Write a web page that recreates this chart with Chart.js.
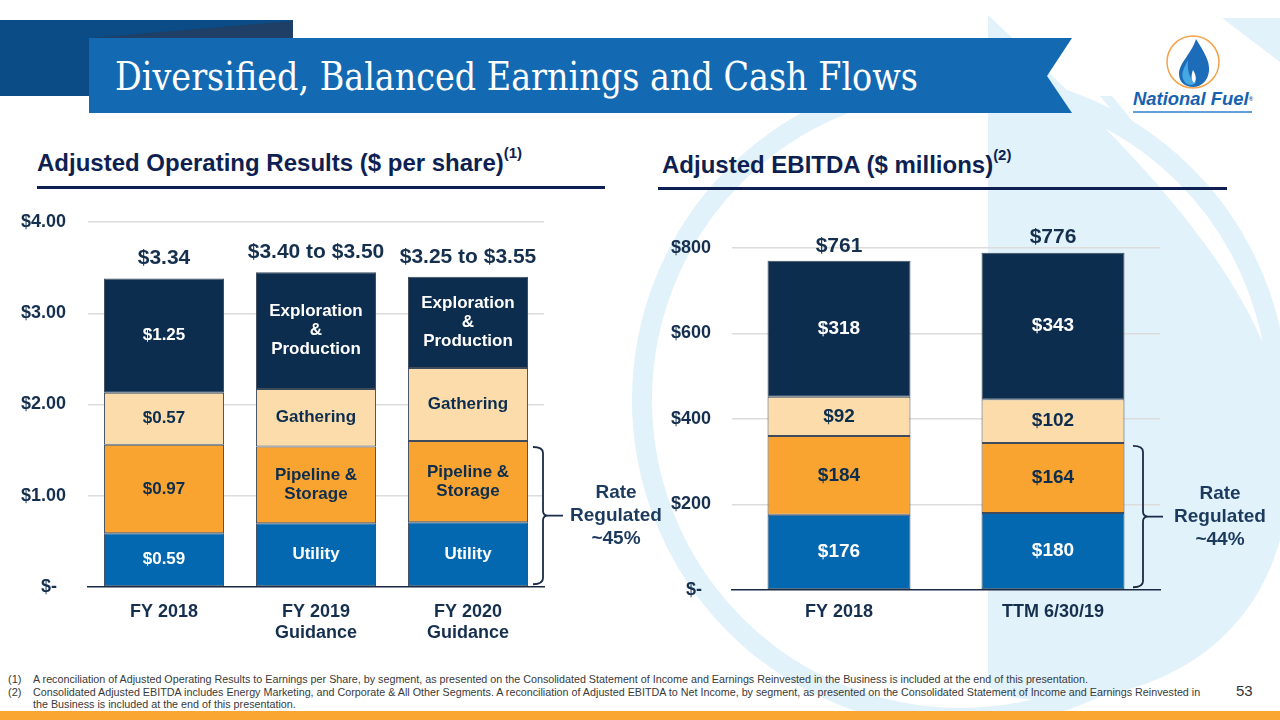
<!DOCTYPE html>
<html>
<head>
<meta charset="utf-8">
<script src="https://cdn.jsdelivr.net/npm/chart.js@4.4.1/dist/chart.umd.min.js"></script>
<style>
  html, body { margin: 0; padding: 0; }
  body { width: 1280px; height: 720px; position: relative; overflow: hidden; background: #ffffff; font-family: "Liberation Sans", Arial, sans-serif; }
  #deco { position: absolute; left: 0; top: 0; z-index: 0; }
  canvas { position: absolute; z-index: 2; }
  #title { position: absolute; left: 115px; top: 52px; z-index: 3; color: #ffffff; font-family: "DejaVu Serif", serif; font-size: 40px; line-height: 48px; white-space: nowrap; transform-origin: left center; }
  .hdr { position: absolute; z-index: 3; color: #0e1f52; font-weight: bold; font-size: 24px; line-height: 30px; white-space: nowrap; }
  .hdr sup { font-size: 15px; position: relative; top: -3px; vertical-align: top; line-height: 15px; }
  .rule { position: absolute; z-index: 3; height: 3px; background: #0e1f52; }
  .fn { position: absolute; z-index: 3; font-size: 11px; line-height: 12.5px; color: #3a3a3a; white-space: nowrap; }
  .fnnum { position: absolute; z-index: 3; font-size: 11px; line-height: 12.5px; color: #3a3a3a; }
  #page { position: absolute; left: 1236px; top: 682px; font-size: 15px; color: #333333; z-index: 3; }
  #orange { position: absolute; left: 0; top: 711px; width: 1280px; height: 9px; background: #f9a633; z-index: 3; }
  #logoText { position: absolute; left: 1133px; top: 89px; z-index: 3; color: #1662b0; font-style: italic; font-weight: bold; font-size: 19px; line-height: 20px; white-space: nowrap; transform-origin: left top; }
</style>
</head>
<body>
<svg id="deco" width="1280" height="720" viewBox="0 0 1280 720">
  <!-- watermark -->
  <path d="M 988 15 C 1120 140, 1300 300, 1290 480 C 1280 640, 1160 700, 1050 700 C 1000 700, 988 690, 988 680 Z" fill="#e2f2fa"/>
  <circle cx="960" cy="400" r="318" fill="none" stroke="#e2f2fa" stroke-width="20"/>
  <path d="M 1222 18 L 1280 18 L 1280 62 Z" fill="#e2f2fa"/>
  <path d="M 1100 96 L 1112 96 L 1140 130 L 1128 130 Z" fill="#e2f2fa"/>
  <!-- dark block -->
  <rect x="0" y="20" width="293" height="76" fill="#0b4c86"/>
  <polygon points="90,38 293,21 293,38" fill="#1f3f66"/>
  <!-- banner -->
  <polygon points="89,38 1072,38 1047,76 1072,113 89,113" fill="#136ab3"/>
  <!-- logo -->
  <circle cx="1193" cy="62" r="26" fill="#ffffff" stroke="#f2a44b" stroke-width="1.5"/>
  <path d="M 1196 39 C 1204 52, 1210 61, 1209 71 C 1208 81, 1201 87, 1193 87 C 1185 87, 1179 82, 1179 74 C 1179 63, 1192 53, 1196 39 Z" fill="#1d6cba"/>
  <path d="M 1188 60 C 1184 68, 1180 74, 1184 81 C 1187 86, 1194 86, 1196 82 C 1190 80, 1187 72, 1188 60 Z" fill="#45a8e3"/>
  <path d="M 1193 70 C 1191 75, 1191 80, 1194 83 C 1197 80, 1196 75, 1193 70 Z" fill="#ffffff"/>
  <line x1="1133" y1="112" x2="1252" y2="112" stroke="#2b7fd0" stroke-width="1.5"/>
</svg>
<div id="logoText">National Fuel<span style="font-size:6px; vertical-align: top; font-style: normal;">®</span></div>

<div id="title">Diversified, Balanced Earnings and Cash Flows</div>

<div class="hdr" style="left:37px; top:148px;">Adjusted Operating Results ($ per share)<sup>(1)</sup></div>
<div class="rule" style="left:37px; top:186px; width:568px;"></div>
<div class="hdr" style="left:662px; top:150px;">Adjusted EBITDA ($ millions)<sup>(2)</sup></div>
<div class="rule" style="left:658px; top:187px; width:569px;"></div>

<canvas id="leftChart" width="680" height="455" style="left:0px; top:195px; width:680px; height:455px;"></canvas>
<canvas id="rightChart" width="640" height="455" style="left:640px; top:195px; width:640px; height:455px;"></canvas>

<div class="fnnum" style="left:8px; top:673px;">(1)</div>
<div class="fn" id="fn1" style="left:33px; top:673px;">A reconciliation of Adjusted Operating Results to Earnings per Share, by segment, as presented on the Consolidated Statement of Income and Earnings Reinvested in the Business is included at the end of this presentation.</div>
<div class="fnnum" style="left:8px; top:685.5px;">(2)</div>
<div class="fn" id="fn2" style="left:33px; top:685.5px;">Consolidated Adjusted EBITDA includes Energy Marketing, and Corporate &amp; All Other Segments. A reconciliation of Adjusted EBITDA to Net Income, by segment, as presented on the Consolidated Statement of Income and Earnings Reinvested in<br>the Business is included at the end of this presentation.</div>
<div id="page">53</div>
<div id="orange"></div>

<script>
// ---------------- DATA ----------------
// Left chart: Adjusted Operating Results ($ per share)
const leftCategories = [['FY 2018'], ['FY 2019', 'Guidance'], ['FY 2020', 'Guidance']];
const leftUtility     = [0.59, 0.70, 0.71];
const leftPipeline    = [0.97, 0.84, 0.89];
const leftGathering   = [0.57, 0.63, 0.80];
const leftExploration = [1.25, 1.28, 1.00];
const leftTotals = ['$3.34', '$3.40 to $3.50', '$3.25 to $3.55'];
const leftUtilityText     = [['$0.59'], ['Utility'], ['Utility']];
const leftPipelineText    = [['$0.97'], ['Pipeline &', 'Storage'], ['Pipeline &', 'Storage']];
const leftGatheringText   = [['$0.57'], ['Gathering'], ['Gathering']];
const leftExplorationText = [['$1.25'], ['Exploration', '&', 'Production'], ['Exploration', '&', 'Production']];
const leftYTicks      = [0, 1, 2, 3, 4];
const leftYTickLabels = ['$-\u2002', '$1.00', '$2.00', '$3.00', '$4.00'];
const leftRegulated   = ['Rate', 'Regulated', '~45%'];

// Right chart: Adjusted EBITDA ($ millions)
const rightCategories  = ['FY 2018', 'TTM 6/30/19'];
const rightUtility     = [176, 180];
const rightPipeline    = [184, 164];
const rightGathering   = [92, 102];
const rightExploration = [318, 343];
const rightTotals = ['$761', '$776'];
const rightYTicks      = [0, 200, 400, 600, 800];
const rightYTickLabels = ['$-\u2002', '$200', '$400', '$600', '$800'];
const rightRegulated   = ['Rate', 'Regulated', '~44%'];

// ---------------- STYLE ----------------
const NAVY = '#0c2d4e';
const TEXTNAVY = '#15304f';
const COLORS = { utility: '#0468b1', pipeline: '#f9a431', gathering: '#fddcab', exploration: '#0c2d4e' };
const FONT = '"Liberation Sans", Arial, sans-serif';

function fmtValue(v) { return '$' + v; }

const segLabelPlugin = {
  id: 'segLabels',
  afterDatasetsDraw(chart) {
    const ctx = chart.ctx;
    const o = chart.options.plugins.segLabels;
    ctx.save();
    ctx.textAlign = 'center';
    ctx.textBaseline = 'middle';
    chart.data.datasets.forEach((ds, di) => {
      const meta = chart.getDatasetMeta(di);
      meta.data.forEach((bar, i) => {
        const lines = ds.segText[i];
        const cy = (bar.y + bar.base) / 2;
        ctx.fillStyle = ds.textColor;
        ctx.font = 'bold ' + o.fontSize + 'px ' + FONT;
        const lh = o.lineHeight;
        const startY = cy - (lines.length - 1) * lh / 2;
        lines.forEach((ln, k) => ctx.fillText(ln, bar.x, startY + k * lh));
      });
    });
    // totals
    const topMeta = chart.getDatasetMeta(chart.data.datasets.length - 1);
    ctx.fillStyle = TEXTNAVY;
    ctx.font = 'bold ' + o.totalSize + 'px ' + FONT;
    topMeta.data.forEach((bar, i) => {
      ctx.fillText(o.totals[i], bar.x, bar.y - o.totalOffset);
    });
    // bracket for rate regulated (utility + pipeline of last bar)
    const n = topMeta.data.length - 1;
    const pipeBar = chart.getDatasetMeta(1).data[n];
    const top = pipeBar.y + o.bracketTopInset;
    const bottom = chart.getDatasetMeta(0).data[n].base - 2;
    const mid = (top + bottom) / 2;
    const x0 = chart.chartArea.right + o.bracketX0;
    const x1 = x0 + 10;
    const x2 = x1 + 20;
    ctx.strokeStyle = '#1a2b48';
    ctx.lineWidth = 1.8;
    ctx.beginPath();
    ctx.moveTo(x0, top);
    ctx.quadraticCurveTo(x1, top, x1, top + 6);
    ctx.lineTo(x1, mid - 5);
    ctx.quadraticCurveTo(x1, mid, x1 + 5, mid);
    ctx.lineTo(x2, mid);
    ctx.moveTo(x1 + 5, mid);
    ctx.quadraticCurveTo(x1, mid, x1, mid + 5);
    ctx.lineTo(x1, bottom - 6);
    ctx.quadraticCurveTo(x1, bottom, x0, bottom);
    ctx.stroke();
    ctx.fillStyle = '#1c3a5e';
    ctx.font = 'bold 19px ' + FONT;
    const tx = chart.chartArea.right + o.regTextX;
    o.regulated.forEach((ln, k) => ctx.fillText(ln, tx, mid + (k - 1) * 23));
    ctx.restore();
  }
};

function makeChart(id, cfg) {
  const datasets = [
    { label: 'Utility', data: cfg.utility, backgroundColor: COLORS.utility, segText: cfg.utilityText, textColor: '#ffffff' },
    { label: 'Pipeline & Storage', data: cfg.pipeline, backgroundColor: COLORS.pipeline, segText: cfg.pipelineText, textColor: NAVY },
    { label: 'Gathering', data: cfg.gathering, backgroundColor: COLORS.gathering, segText: cfg.gatheringText, textColor: NAVY },
    { label: 'Exploration & Production', data: cfg.exploration, backgroundColor: COLORS.exploration, segText: cfg.explorationText, textColor: '#ffffff' }
  ].map(d => Object.assign(d, {
    borderColor: '#3d4b5c', borderWidth: 1, borderSkipped: false,
    barPercentage: cfg.barPct, categoryPercentage: 1
  }));
  return new Chart(document.getElementById(id), {
    type: 'bar',
    data: { labels: cfg.categories, datasets },
    plugins: [segLabelPlugin],
    options: {
      responsive: false,
      animation: false,
      devicePixelRatio: 1,
      layout: { padding: cfg.padding },
      plugins: {
        legend: { display: false },
        tooltip: { enabled: false },
        segLabels: cfg.labelOpts
      },
      scales: {
        x: {
          stacked: true,
          grid: { display: false },
          border: { display: true, color: '#1a2a44', width: 1.5 },
          ticks: { color: TEXTNAVY, font: { family: FONT, size: 18, weight: 'bold', lineHeight: 1.2 }, padding: cfg.xPad, maxRotation: 0, autoSkip: false },
          afterFit(scale) { scale.height = cfg.xHeight; scale.paddingLeft = 0; scale.paddingRight = 0; }
        },
        y: {
          stacked: true,
          min: cfg.yTicks[0],
          max: cfg.yTicks[cfg.yTicks.length - 1],
          afterBuildTicks(scale) { scale.ticks = cfg.yTicks.map(v => ({ value: v })); },
          grid: {
            drawTicks: false,
            color: (c) => (c.tick && c.tick.value === 0) ? 'rgba(0,0,0,0)' : '#dcdcdc',
            lineWidth: 1.5
          },
          border: { display: false },
          ticks: {
            color: TEXTNAVY,
            padding: cfg.yPad,
            font: { family: FONT, size: 18, weight: 'bold' },
            callback: (v) => cfg.yTickLabels[cfg.yTicks.indexOf(v)]
          },
          afterFit(scale) { scale.width = cfg.yWidth; scale.paddingTop = 0; scale.paddingBottom = 0; }
        }
      }
    }
  });
}

makeChart('leftChart', {
  categories: leftCategories,
  utility: leftUtility, pipeline: leftPipeline, gathering: leftGathering, exploration: leftExploration,
  utilityText: leftUtilityText, pipelineText: leftPipelineText, gatheringText: leftGatheringText, explorationText: leftExplorationText,
  yTicks: leftYTicks, yTickLabels: leftYTickLabels,
  barPct: 0.79, padding: { left: 0, right: 136, top: 27, bottom: 0 },
  xHeight: 63, yWidth: 88, yPad: 22, xPad: 6,
  labelOpts: { fontSize: 17, lineHeight: 19, totalSize: 21, totals: leftTotals, totalOffset: 20,
               bracketTopInset: 6, bracketX0: -11, regTextX: 72, regulated: leftRegulated }
});

makeChart('rightChart', {
  categories: rightCategories,
  utility: rightUtility, pipeline: rightPipeline, gathering: rightGathering, exploration: rightExploration,
  utilityText: rightUtility.map(v => [fmtValue(v)]), pipelineText: rightPipeline.map(v => [fmtValue(v)]),
  gatheringText: rightGathering.map(v => [fmtValue(v)]), explorationText: rightExploration.map(v => [fmtValue(v)]),
  yTicks: rightYTicks, yTickLabels: rightYTickLabels,
  barPct: 0.668, padding: { left: 0, right: 120, top: 53, bottom: 0 },
  xHeight: 60, yWidth: 92, yPad: 21, xPad: 3,
  labelOpts: { fontSize: 19, lineHeight: 20, totalSize: 21, totals: rightTotals, totalOffset: 15,
               bracketTopInset: 3, bracketX0: -27, regTextX: 60, regulated: rightRegulated }
});

// fit title, logo and footnote widths
function fitWidth(el, target) {
  const w = el.getBoundingClientRect().width;
  if (w > 0) el.style.transform = 'scaleX(' + (target / w) + ')';
}
fitWidth(document.getElementById('title'), 803);
fitWidth(document.getElementById('logoText'), 120);
const f1 = document.getElementById('fn1');
const f2 = document.getElementById('fn2');
f1.style.transformOrigin = 'left top';
f2.style.transformOrigin = 'left top';
const s = 1055 / f1.getBoundingClientRect().width;
f1.style.transform = 'scaleX(' + s + ')';
f2.style.transform = 'scaleX(' + s + ')';
</script>
</body>
</html>
